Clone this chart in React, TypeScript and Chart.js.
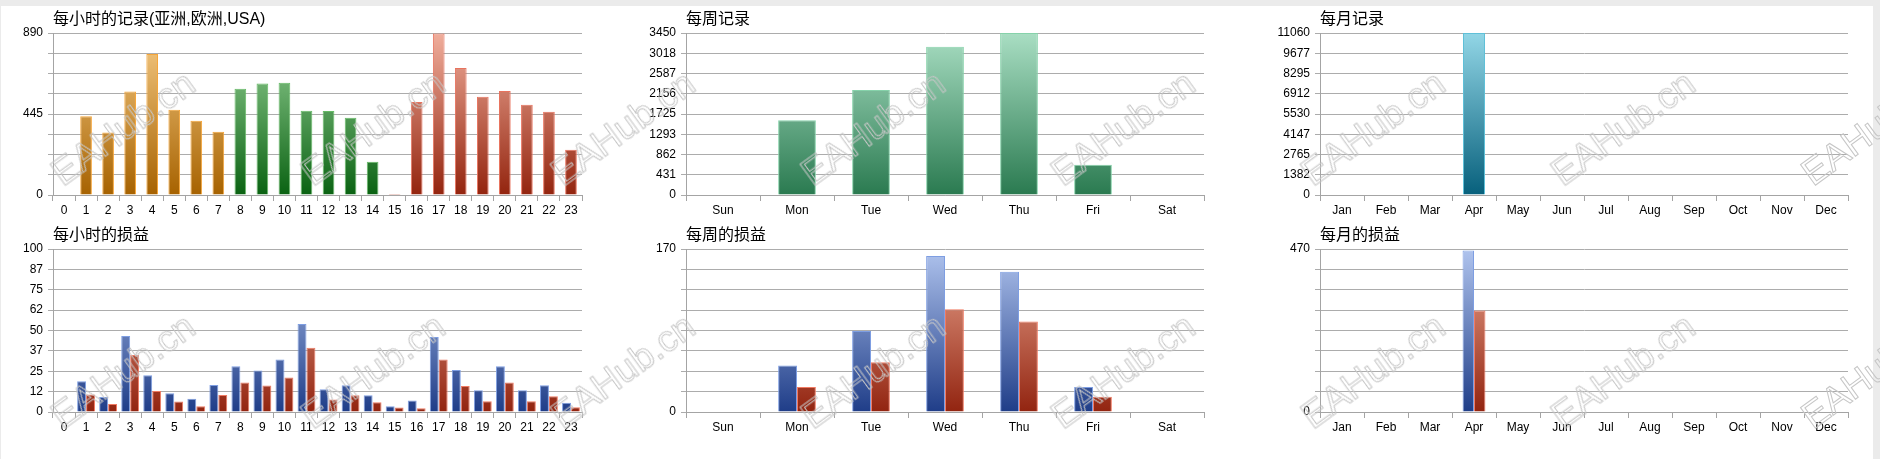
import React, { useEffect, useRef } from 'react';
import { Chart, registerables } from 'chart.js';

Chart.register(...registerables);

// ---------- data ----------
const hourLabels = ['0', '1', '2', '3', '4', '5', '6', '7', '8', '9', '10', '11', '12', '13', '14', '15', '16', '17', '18', '19', '20', '21', '22', '23'];
const weekLabels = ['Sun', 'Mon', 'Tue', 'Wed', 'Thu', 'Fri', 'Sat'];
const monthLabels = ['Jan', 'Feb', 'Mar', 'Apr', 'May', 'Jun', 'Jul', 'Aug', 'Sep', 'Oct', 'Nov', 'Dec'];

const hourlyCount = [0, 432, 344, 568, 775, 469, 408, 348, 584, 612, 617, 463, 461, 425, 183, 6, 511, 887, 698, 540, 571, 496, 458, 249];
const hourRegion = ['asia', 'asia', 'asia', 'asia', 'asia', 'asia', 'asia', 'asia', 'europe', 'europe', 'europe', 'europe', 'europe', 'europe', 'europe', 'usa', 'usa', 'usa', 'usa', 'usa', 'usa', 'usa', 'usa', 'usa'];
const weeklyCount = [0, 1590, 2236, 3159, 3450, 646, 0];
const monthlyCount = [0, 0, 0, 11060, 0, 0, 0, 0, 0, 0, 0, 0];

const hourlyProfit = [0, 18.9, 9.2, 46.6, 22.6, 11.5, 8.2, 16.6, 28.1, 25.5, 32.2, 54, 14, 16.4, 10.3, 3.5, 7, 46, 25.7, 13.3, 28.1, 13.3, 16.4, 5.7];
const hourlyLoss = [0, 10.7, 4.9, 34.9, 12.9, 6.4, 3.5, 10.5, 18.1, 16.2, 21.1, 39.4, 7.6, 10.3, 6, 2.7, 2.3, 32.2, 16, 6.6, 18.1, 6.6, 9.7, 2.9];
const weeklyProfit = [0, 48.5, 84.5, 162.7, 146.3, 26.2, 0];
const weeklyLoss = [0, 26.2, 52, 107.2, 94.3, 16, 0];
const monthlyProfit = [0, 0, 0, 466, 0, 0, 0, 0, 0, 0, 0, 0];
const monthlyLoss = [0, 0, 0, 293, 0, 0, 0, 0, 0, 0, 0, 0];

const hourlyCountTicks = ['0', '', '', '', '445', '', '', '', '890'];
const weeklyCountTicks = ['0', '431', '862', '1293', '1725', '2156', '2587', '3018', '3450'];
const monthlyCountTicks = ['0', '1382', '2765', '4147', '5530', '6912', '8295', '9677', '11060'];
const hourlyPLTicks = ['0', '12', '25', '37', '50', '62', '75', '87', '100'];
const weeklyPLTicks = ['0', '', '', '', '', '', '', '', '170'];
const monthlyPLTicks = ['0', '', '', '', '', '', '', '', '470'];

const hourlyCountMax = 890;
const weeklyCountMax = 3450;
const monthlyCountMax = 11060;
const hourlyPLMax = 100;
const weeklyPLMax = 170;
const monthlyPLMax = 470;

// ---------- styles ----------
type Palette = { top: string; bottom: string; border: string };
const palettes: Record<string, Palette> = {
  asia: { top: '#f6ca84', bottom: '#a66200', border: '#f6a63a' },
  europe: { top: '#9ad49a', bottom: '#0a6212', border: '#66bb66' },
  usa: { top: '#f0ae9c', bottom: '#93240e', border: '#e8735e' },
  week: { top: '#a9dec3', bottom: '#2a7a50', border: '#86d2aa' },
  month: { top: '#92d6e6', bottom: '#07607c', border: '#5fc0d8' },
  blue: { top: '#b0c4ee', bottom: '#1f3d88', border: '#7e9ee2' },
  red: { top: '#eca892', bottom: '#922410', border: '#f07a62' },
};

const tickFont = "'Liberation Sans', Arial, sans-serif";
const titleFont = "'Liberation Sans', 'Noto Sans CJK SC', sans-serif";

function gradient(chart: any, p: Palette) {
  const area = chart.chartArea;
  if (!area) return p.bottom;
  const g = chart.ctx.createLinearGradient(0, area.top, 0, area.bottom);
  g.addColorStop(0, p.top);
  g.addColorStop(1, p.bottom);
  return g;
}

type SeriesSpec = { data: number[]; palette: (i: number) => Palette };

type ChartSpec = {
  title: string;
  labels: string[];
  series: SeriesSpec[];
  max: number;
  ticks: string[];
  catPct: number;
  barPct: number;
  left: number;
  top: number;
  yWidth: number;
  plotW: number;
  height: number;
  xHeight: number;
};

const ROW1_TOP = 6;
const ROW1_H = 216;
const ROW1_XH = 27;
const ROW2_TOP = 222;
const ROW2_H = 237;
const ROW2_XH = 47;

const COLS = [
  { left: 1, yWidth: 52, plotW: 529 },
  { left: 626, yWidth: 60, plotW: 518 },
  { left: 1250, yWidth: 70, plotW: 528 },
];

const specs: ChartSpec[] = [
  {
    title: '每小时的记录(亚洲,欧洲,USA)',
    labels: hourLabels,
    series: [{ data: hourlyCount, palette: (i) => palettes[hourRegion[i]] }],
    max: hourlyCountMax,
    ticks: hourlyCountTicks,
    catPct: 1,
    barPct: 0.53,
    ...COLS[0],
    top: ROW1_TOP,
    height: ROW1_H,
    xHeight: ROW1_XH,
  },
  {
    title: '每周记录',
    labels: weekLabels,
    series: [{ data: weeklyCount, palette: () => palettes.week }],
    max: weeklyCountMax,
    ticks: weeklyCountTicks,
    catPct: 1,
    barPct: 0.51,
    ...COLS[1],
    top: ROW1_TOP,
    height: ROW1_H,
    xHeight: ROW1_XH,
  },
  {
    title: '每月记录',
    labels: monthLabels,
    series: [{ data: monthlyCount, palette: () => palettes.month }],
    max: monthlyCountMax,
    ticks: monthlyCountTicks,
    catPct: 1,
    barPct: 0.5,
    ...COLS[2],
    top: ROW1_TOP,
    height: ROW1_H,
    xHeight: ROW1_XH,
  },
  {
    title: '每小时的损益',
    labels: hourLabels,
    series: [
      { data: hourlyProfit, palette: () => palettes.blue },
      { data: hourlyLoss, palette: () => palettes.red },
    ],
    max: hourlyPLMax,
    ticks: hourlyPLTicks,
    catPct: 0.81,
    barPct: 1,
    ...COLS[0],
    top: ROW2_TOP,
    height: ROW2_H,
    xHeight: ROW2_XH,
  },
  {
    title: '每周的损益',
    labels: weekLabels,
    series: [
      { data: weeklyProfit, palette: () => palettes.blue },
      { data: weeklyLoss, palette: () => palettes.red },
    ],
    max: weeklyPLMax,
    ticks: weeklyPLTicks,
    catPct: 0.51,
    barPct: 1,
    ...COLS[1],
    top: ROW2_TOP,
    height: ROW2_H,
    xHeight: ROW2_XH,
  },
  {
    title: '每月的损益',
    labels: monthLabels,
    series: [
      { data: monthlyProfit, palette: () => palettes.blue },
      { data: monthlyLoss, palette: () => palettes.red },
    ],
    max: monthlyPLMax,
    ticks: monthlyPLTicks,
    catPct: 0.52,
    barPct: 1,
    ...COLS[2],
    top: ROW2_TOP,
    height: ROW2_H,
    xHeight: ROW2_XH,
  },
];

const RIGHT_PAD = 10;

function BarPanel({ spec }: { spec: ChartSpec }) {
  const ref = useRef<HTMLCanvasElement | null>(null);
  const width = spec.yWidth + spec.plotW + RIGHT_PAD;

  useEffect(() => {
    if (!ref.current) return;
    const chart = new Chart(ref.current, {
      type: 'bar',
      data: {
        labels: spec.labels,
        datasets: spec.series.map((s) => ({
          data: s.data,
          backgroundColor: (c: any) => gradient(c.chart, s.palette(c.dataIndex)),
          borderColor: (c: any) => s.palette(c.dataIndex).border,
          borderWidth: 1,
          categoryPercentage: spec.catPct,
          barPercentage: spec.barPct,
        })),
      },
      options: {
        animation: false,
        responsive: false,
        devicePixelRatio: 1,
        layout: { padding: { left: 0, right: RIGHT_PAD, top: 0, bottom: 0 } },
        plugins: {
          legend: { display: false },
          tooltip: { enabled: false },
          title: {
            display: true,
            text: spec.title,
            align: 'start',
            fullSize: false,
            color: '#000',
            font: { family: titleFont, size: 16, weight: 'normal' },
            padding: { top: 3.9, bottom: 3.9 },
          },
        },
        scales: {
          x: {
            type: 'category',
            offset: true,
            grid: {
              display: true,
              offset: true,
              drawOnChartArea: false,
              drawTicks: true,
              tickLength: 6,
              color: '#a4a4a4',
            },
            border: { display: true, color: '#a4a4a4' },
            ticks: {
              color: '#000',
              font: { family: tickFont, size: 12 },
              padding: 2,
              maxRotation: 0,
              autoSkip: false,
            },
            afterFit: (s: any) => {
              s.height = spec.xHeight;
            },
          },
          y: {
            type: 'linear',
            min: 0,
            max: spec.max,
            afterBuildTicks: (s: any) => {
              s.ticks = spec.ticks.map((_, i) => ({ value: (spec.max * i) / 8 }));
            },
            grid: { color: '#acacac', drawTicks: true, tickLength: 5 },
            border: { display: true, color: '#a4a4a4' },
            ticks: {
              color: '#000',
              font: { family: tickFont, size: 12 },
              padding: 5,
              autoSkip: false,
              callback: (_v: any, i: number) => spec.ticks[i],
            },
            afterFit: (s: any) => {
              s.width = spec.yWidth;
            },
          },
        },
      } as any,
    });
    return () => chart.destroy();
  }, [spec]);

  return (
    <canvas
      ref={ref}
      width={width}
      height={spec.height}
      style={{ position: 'absolute', left: spec.left, top: spec.top, width, height: spec.height }}
    />
  );
}

const watermarkX = [123, 373, 623, 873, 1123, 1373, 1623, 1873];
const watermarkY = [128, 371];

export default function App() {
  return (
    <div
      style={{
        position: 'absolute',
        left: 0,
        top: 0,
        width: 1880,
        height: 459,
        background: '#ebebeb',
        overflow: 'hidden',
      }}
    >
      <div style={{ position: 'absolute', left: 1, top: 6, width: 1872, height: 453, background: '#ffffff' }} />
      {specs.map((s, i) => (
        <BarPanel key={i} spec={s} />
      ))}
      {watermarkY.map((y) =>
        watermarkX.map((x) => (
          <div
            key={`${x}-${y}`}
            style={{
              position: 'absolute',
              left: x,
              top: y,
              transform: 'translate(-50%, -50%) rotate(-36deg)',
              fontFamily: tickFont,
              fontSize: 37,
              color: 'transparent',
              WebkitTextStroke: '1px #c6c6c6',
              whiteSpace: 'nowrap',
              pointerEvents: 'none',
              lineHeight: 1,
            }}
          >
            EAHub.cn
          </div>
        ))
      )}
    </div>
  );
}
